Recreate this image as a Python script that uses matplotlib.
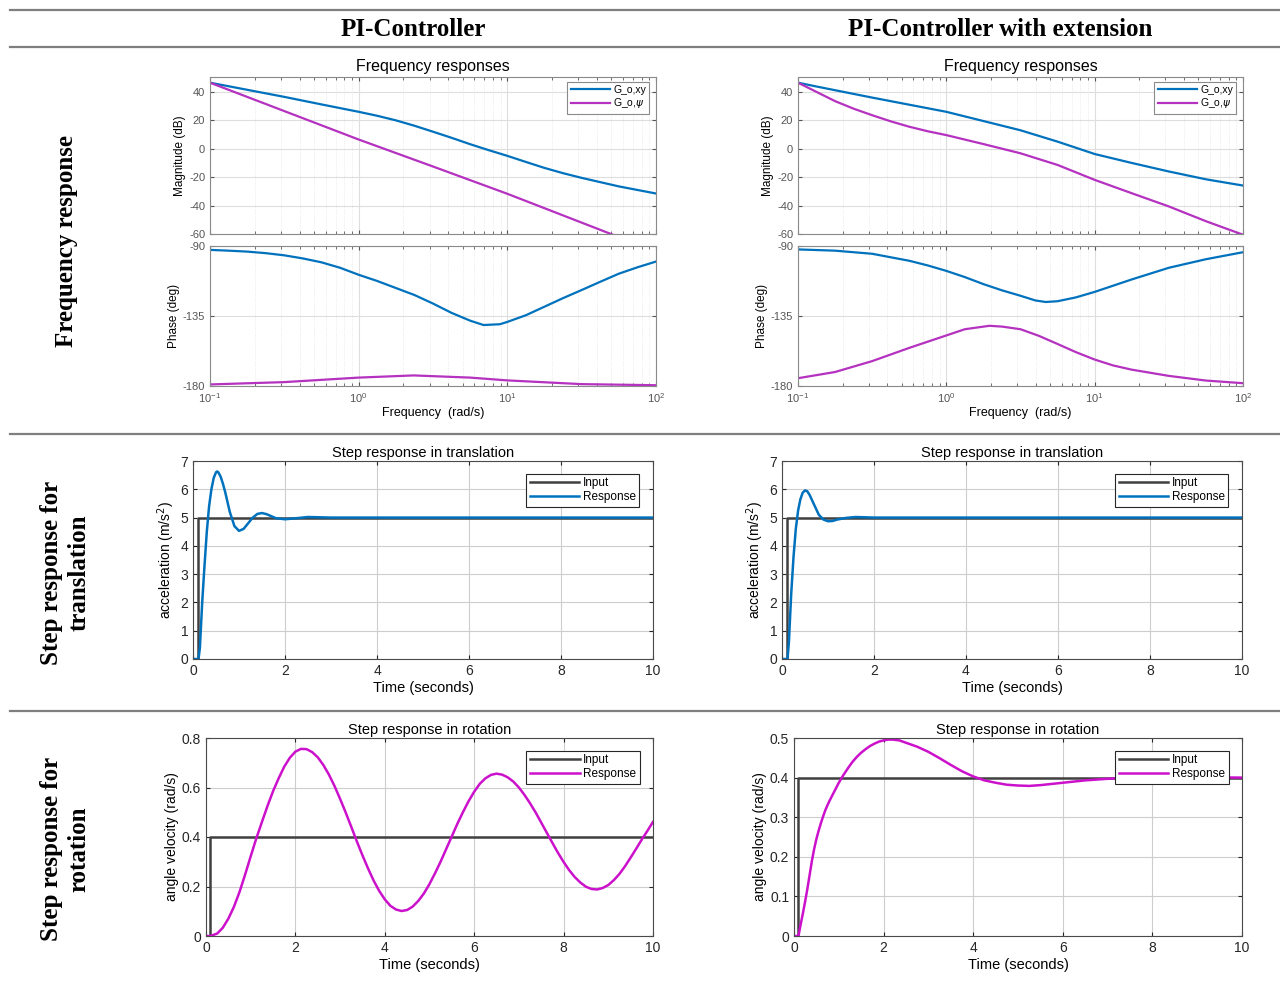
#!/usr/bin/env python3
"""
plot.py

PI-controller vs. PI-controller with extension:
frequency responses and step responses (translation / rotation).
Values read off the original MATLAB figure.
"""

import numpy as np
import matplotlib
matplotlib.use("Agg")
import matplotlib.pyplot as plt
from matplotlib.lines import Line2D

plt.rcParams["font.family"] = ["Liberation Sans", "DejaVu Sans"]
plt.rcParams["mathtext.fontset"] = "dejavusans"

BLUE = "#0072BD"
MAG_BODE = "#B531C0"
MAG_STEP = "#CC11CC"
INPUT = "#404040"

# ---------------- frequency responses (log10 of rad/s) ----------------
# PI-controller
pi_mag_exp = [-1, -0.75, -0.5, -0.25, 0, 0.125, 0.25, 0.375, 0.5, 0.625, 0.75, 0.875,
              1, 1.125, 1.25, 1.375, 1.5, 1.75, 2]
pi_mag_xy = [46.5, 41.5, 36.5, 31.2, 26, 23.2, 20, 16.2, 12, 7.7, 3.2, -1,
             -5, -9.3, -13.5, -17.2, -20.5, -26.5, -31.5]
pi_mag_psi_exp = [-1, -0.5, 0, 0.5, 1, 1.5, 1.697, 2]
pi_mag_psi = [46.5, 26.5, 6.5, -12.5, -31.7, -52, -60, -72]

pi_ph_exp = [-1, -0.875, -0.75, -0.625, -0.5, -0.375, -0.25, -0.125, 0, 0.125, 0.25,
             0.375, 0.5, 0.625, 0.75, 0.84, 0.95, 1.0, 1.125, 1.25, 1.375, 1.5,
             1.625, 1.75, 1.875, 2]
pi_ph_xy = [-92.5, -93, -93.6, -94.6, -96, -98, -100.5, -104, -108.5, -112.5, -117,
            -121.5, -127, -133, -138, -140.8, -140.3, -138.8, -134.5, -129, -123.5,
            -118.3, -113, -107.8, -103.7, -100]
pi_ph_psi_exp = [-1, -0.5, 0, 0.37, 0.75, 1, 1.5, 2]
pi_ph_psi = [-179, -177.5, -174.6, -173.2, -174.6, -176.4, -178.8, -179.5]

# PI-controller with extension
ext_mag_exp = [-1, -0.875, -0.75, -0.625, -0.5, -0.375, -0.25, -0.125, 0, 0.25, 0.5,
               0.75, 1, 1.25, 1.5, 1.75, 2]
ext_mag_xy = [46.5, 43.8, 41.2, 38.6, 36, 33.5, 31, 28.5, 26, 19.5, 13, 5, -3.7,
              -10, -16, -21.5, -25.9]
ext_mag_psi = [46.5, 40, 33.5, 28.2, 23.6, 19.3, 15.5, 12.3, 9.6, 3.3, -3.2, -11.4,
               -21.9, -31.3, -40.6, -51, -60.5]

ext_ph_exp = [-1, -0.75, -0.5, -0.25, -0.125, 0, 0.125, 0.25, 0.375, 0.5, 0.6, 0.67,
              0.75, 0.875, 1, 1.125, 1.25, 1.5, 1.75, 2]
ext_ph_xy = [-92.2, -93, -95, -99.5, -102.5, -106, -110, -114.5, -118.5, -122, -125,
             -126, -125.5, -123, -119.5, -115.5, -111.5, -104, -98.5, -94]
ext_ph_psi_exp = [-1, -0.75, -0.5, -0.25, -0.125, 0, 0.125, 0.29, 0.375, 0.5, 0.625,
                  0.75, 0.875, 1, 1.125, 1.25, 1.5, 1.75, 2]
ext_ph_psi = [-175, -171, -164, -155.5, -151.5, -147.5, -143.5, -141.3, -141.8,
              -143.5, -147.8, -153, -158.3, -163, -166.8, -169.5, -173.5, -176.5,
              -178.2]

# ---------------- step response in translation ----------------
step_t = [0, 0.1, 0.1, 10]
step_trans_in = [0, 0, 5, 5]

pi_tr_t = [0, 0.12, 0.15, 0.2, 0.25, 0.3, 0.35, 0.4, 0.45, 0.5, 0.525, 0.55, 0.6,
           0.65, 0.7, 0.75, 0.8, 0.9, 1.0, 1.1, 1.2, 1.3, 1.4, 1.5, 1.6, 1.7, 1.8,
           2.0, 2.2, 2.5, 3, 10]
pi_tr_y = [0, 0, 0.4, 2.0, 3.3, 4.5, 5.4, 6.0, 6.4, 6.6, 6.63, 6.6, 6.45, 6.2,
           5.9, 5.55, 5.2, 4.7, 4.53, 4.6, 4.8, 5.0, 5.13, 5.16, 5.12, 5.05, 4.98,
           4.94, 4.97, 5.02, 5.0, 5.0]

ext_tr_t = [0, 0.12, 0.15, 0.2, 0.25, 0.3, 0.35, 0.4, 0.45, 0.5, 0.55, 0.6, 0.7, 0.8,
            0.9, 1.0, 1.1, 1.2, 1.4, 1.6, 2.0, 10]
ext_tr_y = [0, 0, 0.6, 2.3, 3.6, 4.6, 5.25, 5.65, 5.88, 5.96, 5.93, 5.8, 5.45, 5.1,
            4.93, 4.87, 4.88, 4.93, 4.99, 5.02, 5.0, 5.0]

# ---------------- step response in rotation ----------------
step_rot_in = [0, 0, 0.4, 0.4]

pi_rot_t = [0, 0.1, 0.25, 0.375, 0.5, 0.625, 0.75, 0.875, 1.0, 1.125, 1.25, 1.375,
            1.5, 1.625, 1.75, 1.875, 2.0, 2.125, 2.25, 2.375, 2.5, 2.625, 2.75,
            2.875, 3.0, 3.125, 3.25, 3.375, 3.5, 3.625, 3.75, 3.875, 4.0, 4.125,
            4.25, 4.375, 4.5, 4.625, 4.75, 4.875, 5.0, 5.125, 5.25, 5.375, 5.5,
            5.625, 5.75, 5.875, 6.0, 6.125, 6.25, 6.375, 6.5, 6.625, 6.75, 6.875,
            7.0, 7.125, 7.25, 7.375, 7.5, 7.625, 7.75, 7.875, 8.0, 8.125, 8.25,
            8.375, 8.5, 8.625, 8.75, 8.875, 9.0, 9.125, 9.25, 9.375, 9.5, 9.625,
            9.75, 9.875, 10.0]
pi_rot_y = [0, 0, 0.01, 0.033, 0.07, 0.118, 0.178, 0.248, 0.322, 0.394, 0.46, 0.525,
            0.585, 0.637, 0.684, 0.72, 0.745, 0.756, 0.755, 0.743, 0.722, 0.691,
            0.652, 0.606, 0.554, 0.499, 0.441, 0.382, 0.326, 0.273, 0.224, 0.182,
            0.148, 0.122, 0.107, 0.101, 0.105, 0.119, 0.142, 0.172, 0.21, 0.254,
            0.301, 0.352, 0.403, 0.454, 0.501, 0.545, 0.583, 0.615, 0.637, 0.651,
            0.656, 0.652, 0.641, 0.624, 0.6, 0.57, 0.536, 0.499, 0.458, 0.417,
            0.376, 0.336, 0.299, 0.266, 0.238, 0.216, 0.199, 0.19, 0.188, 0.194,
            0.206, 0.226, 0.251, 0.282, 0.317, 0.353, 0.39, 0.425, 0.461]

ext_rot_t = [0, 0.1, 0.15, 0.2, 0.25, 0.3, 0.35, 0.4, 0.45, 0.5, 0.55, 0.6, 0.65, 0.7,
             0.75, 0.8, 0.9, 1.0, 1.1, 1.2, 1.3, 1.4, 1.5, 1.6, 1.7, 1.8, 1.9, 2.0,
             2.1, 2.2, 2.35, 2.5, 2.75, 3.0, 3.25, 3.5, 3.75, 4.0, 4.25, 4.5, 4.75,
             5.0, 5.25, 5.5, 6.0, 6.5, 7.0, 7.5, 8.0, 9.0, 10.0]
ext_rot_y = [0, 0, 0.03, 0.058, 0.088, 0.12, 0.155, 0.19, 0.22, 0.245, 0.266, 0.285,
             0.302, 0.318, 0.331, 0.343, 0.365, 0.387, 0.406, 0.423, 0.439, 0.452,
             0.463, 0.472, 0.48, 0.486, 0.491, 0.494, 0.496, 0.496, 0.494, 0.488,
             0.478, 0.465, 0.449, 0.432, 0.416, 0.403, 0.393, 0.387, 0.382, 0.38,
             0.379, 0.381, 0.387, 0.393, 0.397, 0.4, 0.402, 0.401, 0.4]

W, H = 1280, 982


def rect(x0, y0, x1, y1):
    return [x0 / W, 1 - y1 / H, (x1 - x0) / W, (y1 - y0) / H]


def style_bode(ax):
    ax.set_xscale("log")
    ax.set_xlim(0.1, 100)
    ax.grid(True, which="major", color="#dedede", lw=0.8)
    ax.grid(True, which="minor", axis="x", color="#e4e4e4", lw=0.6, ls=":")
    ax.tick_params(which="both", direction="in", top=True, right=True,
                   colors="#555555", labelsize=8, length=3)
    ax.tick_params(which="minor", length=2)
    for s in ax.spines.values():
        s.set_color("#8a8a8a")
        s.set_linewidth(0.8)
    ax.set_axisbelow(True)


def bode_panel(fig, x0, x1, mag_exp, mag_xy, mag_psi_exp, mag_psi,
               ph_exp, ph_xy, ph_psi_exp, ph_psi):
    axm = fig.add_axes(rect(x0, 77, x1, 234))
    axp = fig.add_axes(rect(x0, 246, x1, 386))

    axm.plot(10 ** np.array(mag_exp), mag_xy, color=BLUE, lw=1.6, label="G_o,xy")
    axm.plot(10 ** np.array(mag_psi_exp), mag_psi, color=MAG_BODE, lw=1.6,
             label="G_o,$\\psi$")
    style_bode(axm)
    axm.set_ylim(-60, 50.5)
    axm.set_yticks([-60, -40, -20, 0, 20, 40])
    axm.tick_params(labelbottom=False)
    axm.set_ylabel("Magnitude (dB)", fontsize=8.5, labelpad=2)
    axm.set_title("Frequency responses", fontsize=11.5, pad=4)
    leg = axm.legend(loc="upper right", bbox_to_anchor=(0.985, 0.97), fontsize=7.5,
                     handlelength=3.8, borderaxespad=0, borderpad=0.3,
                     labelspacing=0.15, handletextpad=0.3, fancybox=False,
                     framealpha=1)
    leg.get_frame().set_edgecolor("#8a8a8a")
    leg.get_frame().set_linewidth(0.8)

    axp.plot(10 ** np.array(ph_exp), ph_xy, color=BLUE, lw=1.6)
    axp.plot(10 ** np.array(ph_psi_exp), ph_psi, color=MAG_BODE, lw=1.6)
    style_bode(axp)
    axp.set_ylim(-180, -90)
    axp.set_yticks([-180, -135, -90])
    axp.set_ylabel("Phase (deg)", fontsize=8.5, labelpad=2)
    axp.set_xlabel("Frequency  (rad/s)", fontsize=9, labelpad=2)


def step_panel(fig, box, t_resp, y_resp, in_y, color, ylim, yticks, ylabel, title):
    ax = fig.add_axes(rect(*box))
    ax.plot(step_t, in_y, color=INPUT, lw=1.8, label="Input")
    ax.plot(t_resp, y_resp, color=color, lw=1.8, label="Response")
    ax.set_xlim(0, 10)
    ax.set_ylim(*ylim)
    ax.set_yticks(yticks)
    ax.set_xticks([0, 2, 4, 6, 8, 10])
    ax.grid(True, color="#cdcdcd", lw=0.8)
    ax.set_axisbelow(True)
    ax.tick_params(direction="in", top=True, right=True, labelsize=10,
                   colors="#262626", length=3)
    for s in ax.spines.values():
        s.set_color("#4a4a4a")
        s.set_linewidth(0.8)
    ax.set_xlabel("Time (seconds)", fontsize=10.5, labelpad=2)
    ax.set_ylabel(ylabel, fontsize=10, labelpad=2)
    ax.set_title(title, fontsize=10.5, pad=3)
    leg = ax.legend(loc="upper right", bbox_to_anchor=(0.97, 0.935), fontsize=8.5,
                    handlelength=4.2, borderaxespad=0, borderpad=0.3,
                    labelspacing=0.15, handletextpad=0.3, fancybox=False,
                    framealpha=1)
    leg.get_frame().set_edgecolor("#262626")
    leg.get_frame().set_linewidth(0.8)
    return ax


def main():
    fig = plt.figure(figsize=(W / 100, H / 100), dpi=100)

    # table rules
    for y in [10, 47, 434, 711]:
        fig.add_artist(Line2D([10 / W, 1], [1 - y / H] * 2, color="#7f7f7f", lw=1.6))

    serif = dict(family=["Liberation Serif", "DejaVu Serif"], weight="bold",
                 fontsize=18, ha="center", va="center")
    fig.text(413 / W, 1 - 29 / H, "PI-Controller", **serif)
    fig.text(1000 / W, 1 - 29 / H, "PI-Controller with extension", **serif)
    fig.text(66 / W, 1 - 241 / H, "Frequency response", rotation=90, **serif)
    fig.text(65 / W, 1 - 573 / H, "Step response for\ntranslation", rotation=90,
             linespacing=1.25, **serif)
    fig.text(65 / W, 1 - 849 / H, "Step response for\nrotation", rotation=90,
             linespacing=1.25, **serif)

    bode_panel(fig, 210, 656, pi_mag_exp, pi_mag_xy, pi_mag_psi_exp, pi_mag_psi,
               pi_ph_exp, pi_ph_xy, pi_ph_psi_exp, pi_ph_psi)
    bode_panel(fig, 798, 1243, ext_mag_exp, ext_mag_xy, ext_mag_exp, ext_mag_psi,
               ext_ph_exp, ext_ph_xy, ext_ph_psi_exp, ext_ph_psi)

    acc_label = "acceleration (m/s$^2$)"
    step_panel(fig, (193, 461, 653, 659), pi_tr_t, pi_tr_y, step_trans_in, BLUE,
               (0, 7), range(8), acc_label, "Step response in translation")
    step_panel(fig, (782, 461, 1242, 659), ext_tr_t, ext_tr_y, step_trans_in, BLUE,
               (0, 7), range(8), acc_label, "Step response in translation")

    step_panel(fig, (206, 738, 653, 936), pi_rot_t, pi_rot_y, step_rot_in, MAG_STEP,
               (0, 0.8), [0, 0.2, 0.4, 0.6, 0.8], "angle velocity (rad/s)",
               "Step response in rotation")
    step_panel(fig, (794, 738, 1242, 936), ext_rot_t, ext_rot_y, step_rot_in,
               MAG_STEP, (0, 0.5), [0, 0.1, 0.2, 0.3, 0.4, 0.5],
               "angle velocity (rad/s)", "Step response in rotation")

    for a in fig.axes:
        a.yaxis.set_major_formatter(plt.FuncFormatter(lambda v, p: f"{v:g}"))

    fig.savefig("out.png", dpi=100)
    plt.close(fig)
    print("[saved] out.png")


if __name__ == "__main__":
    main()
